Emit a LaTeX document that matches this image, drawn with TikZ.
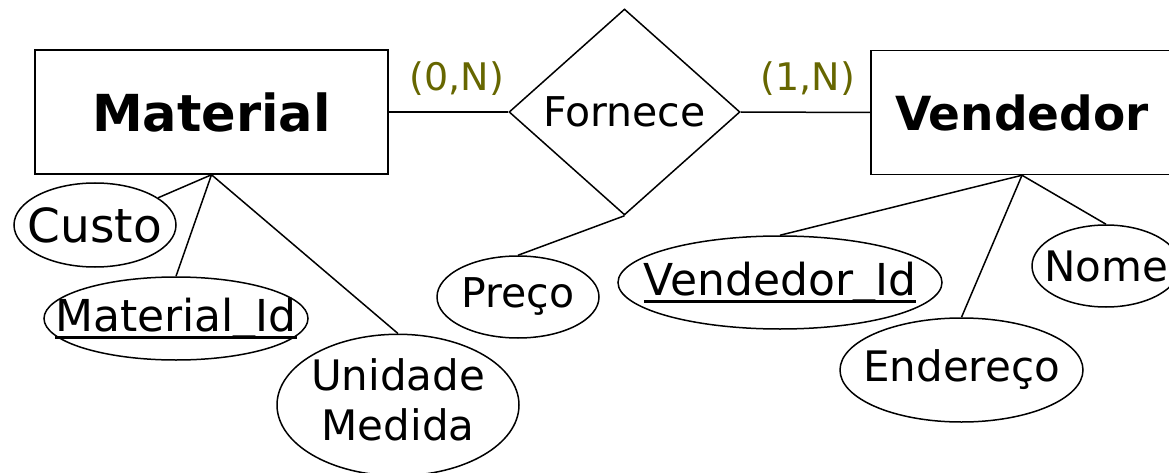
\documentclass[tikz,border=0pt]{standalone}
\usepackage{fontspec}
\setmainfont{DejaVu Sans}
\usetikzlibrary{shapes.geometric}
\definecolor{cardcol}{HTML}{666600}
\newcommand\zw[1]{\makebox[0pt]{#1}}
\newcommand\ulkey[1]{\setbox0\hbox{#1}\rlap{\rule[-7pt]{\wd0}{3pt}}\box0}
\newcommand\fsz[1]{\fontsize{#1}{1.2\dimexpr#1pt\relax}\selectfont}
\begin{document}
\begin{tikzpicture}[x=1pt,y=-1pt,line width=1.5pt,
  entity/.style={draw,rectangle,inner sep=0pt},
  relation/.style={draw,diamond,inner sep=0pt,font=\fsz{41}},
  attr/.style={draw,ellipse,inner sep=0pt},
  card/.style={text=cardcol,inner sep=0pt,font=\fsz{38}}]
\useasboundingbox (0,0) rectangle (1169,473);
\node[entity,minimum width=353pt,minimum height=124pt,font=\fsz{51}\bfseries] (mat) at (211.5,112) {Material};
\node[entity,minimum width=302pt,minimum height=124pt,font=\fsz{47}\bfseries] (vend) at (1022,112.5) {Vendedor};
\node[relation,minimum width=231pt,minimum height=206pt] (rel) at (624.5,112) {Fornece};
\node[card] (c1) at (457,78.5) {(0,N)};
\node[card] (c2) at (808,78.5) {(1,N)};
\node[attr,minimum width=162pt,minimum height=84pt,font=\fsz{47}] (custo) at (95,225) {\zw{Custo}};
\node[attr,minimum width=264pt,minimum height=83pt,font=\fsz{44}] (mid) at (176,318.5) {\zw{\ulkey{Material\raisebox{3pt}{\_}Id}}};
\node[attr,minimum width=242pt,minimum height=134pt,font=\fontsize{42}{50}\selectfont] (unid) at (398,405) {\zw{\begin{tabular}{@{}c@{}}Unidade\\Medida\end{tabular}}};
\node[attr,minimum width=162pt,minimum height=82pt,font=\fsz{41}] (preco) at (518,297) {\zw{Preço}};
\node[attr,minimum width=324pt,minimum height=93pt,font=\fsz{44}] (vid) at (780,282.5) {\zw{\ulkey{Vendedor\raisebox{3pt}{\_}Id}}};
\node[attr,minimum width=243pt,minimum height=104pt,font=\fsz{42}] (ender) at (961.5,370) {\zw{Endereço}};
\node[attr,minimum width=148pt,minimum height=82pt,font=\fsz{42}] (nome) at (1106,266) {\zw{Nome}};
\draw (mat.east) -- (rel.west);
\draw (rel.east) -- (vend.west);
\draw (mat.south) -- (custo);
\draw (mat.south) -- (mid.north);
\draw (mat.south) -- (unid.north);
\draw (rel.south) -- (preco.north);
\draw (vend.south) -- (vid.north);
\draw (vend.south) -- (ender.north);
\draw (vend.south) -- (nome.north);
\end{tikzpicture}
\end{document}
